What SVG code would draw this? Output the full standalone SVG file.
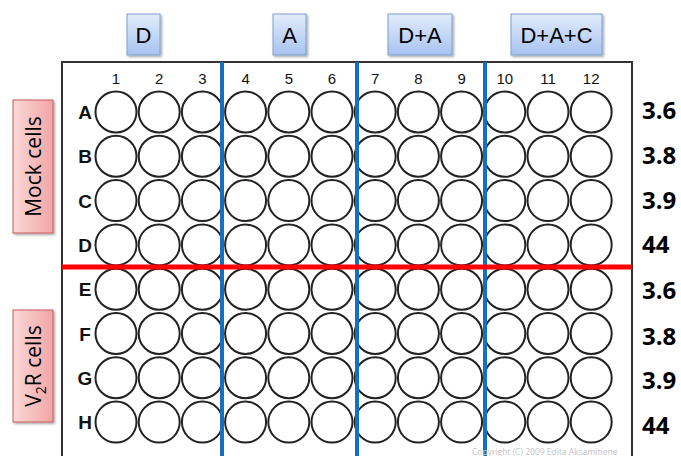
<svg xmlns="http://www.w3.org/2000/svg" width="681" height="456" viewBox="0 0 681 456">
<style>
.hdr{font-family:"Liberation Sans",Arial,sans-serif;font-size:22px;fill:#000;text-anchor:middle}
.side{font-family:"Open Sans","Liberation Sans",sans-serif;font-size:21px;fill:#000;text-anchor:middle}
.col{font-family:"Liberation Sans",Arial,sans-serif;font-size:15px;fill:#111;text-anchor:middle}
.row{font-family:"Liberation Sans",Arial,sans-serif;font-size:19px;font-weight:bold;fill:#111;text-anchor:middle}
.val{font-family:"Open Sans","Liberation Sans",sans-serif;font-size:24px;font-weight:bold;fill:#000}
.well{fill:#fff;stroke:#222;stroke-width:2}
.bbox{fill:url(#gb);stroke:#7f9fd0;stroke-width:1;filter:url(#sh)}
.pbox{fill:url(#gp);stroke:#cc5a5a;stroke-width:1;filter:url(#sh)}
.copy{font-family:"Open Sans","Liberation Sans",sans-serif;font-size:8.5px;fill:#c4c4c4}
</style>
<defs>
<linearGradient id="gb" x1="0" y1="0" x2="0" y2="1"><stop offset="0" stop-color="#e2ecfc"/><stop offset="1" stop-color="#a8c3f0"/></linearGradient>
<linearGradient id="gp" x1="0" y1="0" x2="1" y2="0"><stop offset="0" stop-color="#fbd8d8"/><stop offset="1" stop-color="#f2a5a5"/></linearGradient>
<filter id="sh" x="-20%" y="-20%" width="150%" height="150%"><feDropShadow dx="1.5" dy="1.5" stdDeviation="1.2" flood-color="#000" flood-opacity="0.35"/></filter>
</defs>
<rect width="681" height="456" fill="#fff"/>
<g id="header-D"><rect class="bbox" x="127" y="14" width="33" height="41"/><text class="hdr" x="143.5" y="43">D</text></g>
<g id="header-A"><rect class="bbox" x="273" y="14" width="33" height="41"/><text class="hdr" x="289.5" y="43">A</text></g>
<g id="header-DA"><rect class="bbox" x="388" y="14" width="64" height="41"/><text class="hdr" x="420" y="43">D+A</text></g>
<g id="header-DAC"><rect class="bbox" x="511" y="14" width="91" height="41"/><text class="hdr" x="556.5" y="43">D+A+C</text></g>
<g id="mock"><rect class="pbox" x="13" y="100" width="40" height="133"/><text class="side" transform="translate(40.5,166.5) rotate(-90)">Mock cells</text></g>
<g id="v2r"><rect class="pbox" x="13" y="310" width="40" height="112"/><text class="side" transform="translate(40.5,366) rotate(-90)">V<tspan font-size="14" dy="5">2</tspan><tspan dy="-5">R cells</tspan></text></g>
<g id="plate">
<rect x="62" y="62" width="570" height="410" fill="#fff" stroke="#333" stroke-width="2"/>
<g id="colnums">
<text class="col" x="116" y="84">1</text><text class="col" x="159.2" y="84">2</text><text class="col" x="202.4" y="84">3</text><text class="col" x="245.6" y="84">4</text><text class="col" x="288.8" y="84">5</text><text class="col" x="332" y="84">6</text><text class="col" x="375.2" y="84">7</text><text class="col" x="418.4" y="84">8</text><text class="col" x="461.6" y="84">9</text><text class="col" x="504.8" y="84">10</text><text class="col" x="548" y="84">11</text><text class="col" x="591.2" y="84">12</text>
</g>
<g id="rowlabels">
<text class="row" x="85" y="119">A</text><text class="row" x="85" y="163.3">B</text><text class="row" x="85" y="207.6">C</text><text class="row" x="85" y="251.9">D</text><text class="row" x="85" y="296.2">E</text><text class="row" x="85" y="340.5">F</text><text class="row" x="85" y="384.8">G</text><text class="row" x="85" y="429.1">H</text>
</g>
<g id="wells">
<g id="r0"><circle class="well" cx="116" cy="112" r="20.5"/><circle class="well" cx="159.2" cy="112" r="20.5"/><circle class="well" cx="202.4" cy="112" r="20.5"/><circle class="well" cx="245.6" cy="112" r="20.5"/><circle class="well" cx="288.8" cy="112" r="20.5"/><circle class="well" cx="332" cy="112" r="20.5"/><circle class="well" cx="375.2" cy="112" r="20.5"/><circle class="well" cx="418.4" cy="112" r="20.5"/><circle class="well" cx="461.6" cy="112" r="20.5"/><circle class="well" cx="504.8" cy="112" r="20.5"/><circle class="well" cx="548" cy="112" r="20.5"/><circle class="well" cx="591.2" cy="112" r="20.5"/></g>
<use href="#r0" y="44.3"/><use href="#r0" y="88.6"/><use href="#r0" y="132.9"/><use href="#r0" y="177.2"/><use href="#r0" y="221.5"/><use href="#r0" y="265.8"/><use href="#r0" y="310.1"/>
</g>
</g>
<g id="connectors">
<line x1="222" y1="62" x2="222" y2="456" stroke="#1470c0" stroke-width="4"/>
<line x1="357" y1="62" x2="357" y2="456" stroke="#1470c0" stroke-width="4"/>
<line x1="485" y1="62" x2="485" y2="456" stroke="#1470c0" stroke-width="4"/>
<line x1="62" y1="267" x2="632" y2="267" stroke="#ff0000" stroke-width="5"/>
</g>
<g id="values">
<text class="val" x="642" y="119">3.6</text><text class="val" x="642" y="164">3.8</text><text class="val" x="642" y="208.5">3.9</text><text class="val" x="642" y="253">44</text><text class="val" x="642" y="299">3.6</text><text class="val" x="642" y="345">3.8</text><text class="val" x="642" y="389">3.9</text><text class="val" x="642" y="434">44</text>
</g>
<text class="copy" x="472" y="455">Copyright (C) 2009 Edita Aksamitiene</text>
</svg>
